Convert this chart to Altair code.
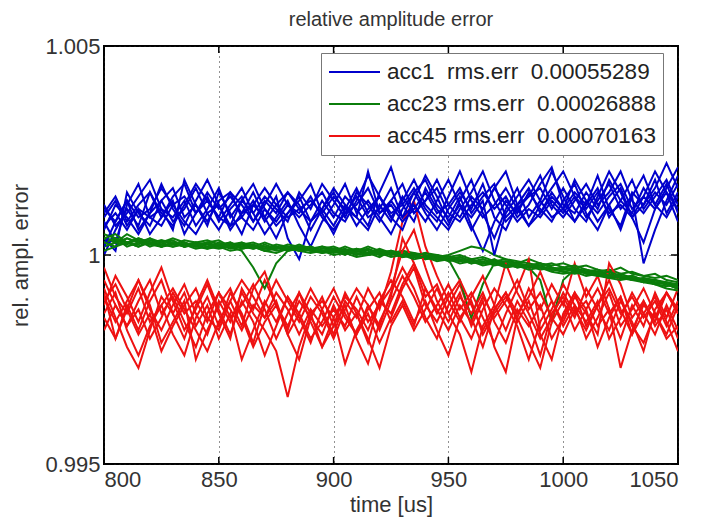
import altair as alt
import pandas as pd

TIME = list(range(800, 1051, 5))  # 51 samples, 5 us apart

# deviations from 1, in units of 1e-4
BLUE = [
    [4, 1, 15, 10, 7, 13, 8, 11, 16, 10, 6, 11, 14, 8, 12, 17, 12, 9, 12, 15,
     10, 8, 13, 19, 14, 10, 12, 16, 11, 8, 14, 20, 13, 9, 12, 16, 11, 14, 19, 12,
     9, 13, 17, 12, 15, 20, 13, 10, 14, 18, 12],
    [8, 3, 12, 17, 9, 11, 6, 18, 12, 7, 15, 10, 5, 12, 9, 14, 4, -1, 8, 13,
     9, 14, 11, 7, 15, 21, 12, 8, 16, 11, 7, 13, 18, 10, 4, 11, 16, 9, 13, 20,
     14, 8, 12, 19, 11, 7, 15, 12, 18, 10, 15],
    [12, 7, 10, 14, 18, 11, 9, 13, 7, 11, 16, 9, 13, 17, 11, 7, 10, 14, 8, 11,
     16, 12, 7, 11, 14, 9, 13, 18, 12, 9, 6, 11, 15, 20, 13, 8, 11, 7, 12, 16,
     20, 14, 9, 13, 17, 11, 14, -2, 6, 13, 19],
    [0, 6, 11, 7, 15, 9, 13, 5, 10, 14, 8, 12, 16, 10, 5, 9, 13, 7, 2, 8,
     12, 17, 10, 13, 9, 5, 11, 15, 18, 12, 9, 14, 7, 1, 8, 13, 10, 15, 11, 8,
     13, 17, 10, 6, 12, 16, 9, 3, 11, 15, 8],
    [10, 14, 8, 12, 15, 10, 7, 12, 17, 13, 9, 7, 13, 10, 14, 11, 8, 15, 11, 17,
     13, 9, 15, 12, 8, 13, 17, 10, 13, 16, 10, 8, 12, 15, 11, 14, 9, 12, 17, 21,
     12, 10, 15, 11, 18, 13, 10, 16, 12, 9, 14],
    [6, 12, 9, 5, 10, 13, 16, 9, 12, 8, 13, 15, 9, 6, 11, 8, 12, 10, 14, 9,
     6, 10, 14, 9, 11, 16, 9, 12, 8, 13, 18, 12, 9, 13, 0, 10, 14, 18, 13, 9,
     11, 15, 12, 16, 9, 13, 18, 11, 15, 12, 17],
    [11, 8, 13, 9, 11, 16, 12, 14, 10, 15, 11, 14, 10, 12, 16, 12, 9, 11, 13, 10,
     14, 11, 9, 20, 10, 12, 8, 11, 15, 10, 12, 16, 10, 14, 17, 9, 12, 16, 10, 14,
     11, 8, 13, 10, 14, 17, 11, 14, 20, 15, 11],
    [7, 10, 6, 11, 9, 7, 12, 8, 5, 10, 12, 7, 9, 13, 8, 12, 15, 11, 8, 11,
     7, 12, 9, 6, 12, 8, 14, 10, 13, 18, 12, 9, 14, 11, 16, 12, 8, 11, 9, 13,
     10, 14, 11, 15, 10, 12, 9, 14, 11, 16, 21],
    [2, 8, 13, 6, 10, 17, 11, 7, 13, 18, 12, 6, 10, 15, 9, 4, 10, 13, 17, 10,
     5, 11, 16, 10, 14, 9, 6, 13, 19, 14, 8, 12, 6, 11, 16, 20, 12, 7, 10, 15,
     11, 18, 13, 8, 12, 6, 14, 19, 12, 17, 10],
    [9, 13, 7, 11, 5, 9, 14, 17, 10, 13, 9, 15, 12, 8, 13, 10, 15, 12, 6, 11,
     15, 10, 12, 16, 10, 13, 9, 15, 10, 6, 11, 15, 11, 17, 9, 6, 12, 14, 16, 11,
     16, 11, 8, 14, 20, 15, 9, 12, 16, 22, 16],
]

GREEN = [
    [3, 4, 2, 3, 4, 2, 3, 2, 3, 2.5, 2, 3, 1.5, 2, 3, 2, 1, 2, 1.5, 2,
     1, 2, 1, 0.5, 1.5, 0.5, 1, 0, 0.5, 0, -0.5, 0, -1, -0.5, -1.5, -1, -2, -1, -2, -2.5,
     -2, -3, -2.5, -3.5, -4, -3, -4.5, -5, -4.5, -6, -6.5],
    [4, 3, 5, 3.5, 2, 3, 4, 3, 2, 3, 3.5, 2, 2.5, 3, 2, 1.5, 2.5, 2, 1, 1.5,
     2, 1, 1.5, 0.5, 1, 0, 1, 0.5, -0.5, 0, -1, -6, -15, -7, -2, -1.5, -2, -2.5, -2, -3,
     -3.5, -3, -4, -3.5, -5, -4.5, -5.5, -6, -6.5, -7, -8],
    [2, 3, 2.5, 4, 3, 2, 3, 2.5, 1.5, 2, 3, 2, 2.5, 1.5, 2, 1, 1.5, 2, 1, 0.5,
     1, 0, 1.5, 1, 0, 0.5, -0.5, 0, -1, -0.5, -1, -1.5, -1, -2, -1.5, -2.5, -2, -3, -6, -16,
     -6, -3.5, -4, -4.5, -4, -5.5, -5, -6, -7, -6.5, -7.5],
    [3, 4, 3, 2, 3.5, 3, 2, 2.5, 3, 2, 1.5, 2, 1, -3, -8, -2, 1, 1.5, 2, 1,
     1.5, 0.5, 1, 2, 1, 0, 0.5, -0.5, 0, -1, -1, -0.5, -1.5, -1, -2, -2.5, -2, -3, -2.5, -3.5,
     -4, -3.5, -4.5, -5, -4.5, -5.5, -6, -6.5, -6, -7, -7.5],
    [5, 4, 3, 4, 3, 3.5, 2.5, 3, 2, 3, 2, 2.5, 3, 2, 1.5, 2, 1, 1.5, 2, 1,
     0.5, 1, 0, 1.5, 0.5, 1, 0, -0.5, 0.5, -0.5, 0, 1, 2, 1.5, 0, -1, -1.5, -2, -2.5, -2,
     -3, -2.5, -3.5, -4, -3.5, -4.5, -4, -5, -5.5, -5, -6],
    [2, 3, 4, 3, 2.5, 2, 3, 2, 2.5, 1.5, 2.5, 1.5, 2, 2.5, 1, 1.5, 2, 1, 1.5, 0.5,
     1, 1.5, 0.5, 0, 1, 0.5, -0.5, 0, -1, -0.5, -1.5, -1, -2, -1.5, -2.5, -2, -3, -2.5, -3.5, -3,
     -4, -4.5, -4, -5, -5.5, -5, -6, -5.5, -6.5, -7, -8],
    [4, 3.5, 3, 2.5, 4, 3, 3.5, 2, 3, 3.5, 2.5, 3, 2, 2.5, 1.5, 2.5, 2, 1.5, 1, 2,
     1.5, 1, 0, 0.5, -0.5, 1, 0.5, 0, -0.5, -1, -0.5, -1.5, -1, -2, -1.5, -2, -3, -2.5, -3, -3.5,
     -3, -4, -3.5, -4.5, -5, -5.5, -5, -6, -7, -7.5, -7],
    [1, 2, 3, 2, 3, 2.5, 2, 3, 2, 1.5, 2, 1, 1.5, 2, 1, 0.5, 1.5, 1, 0.5, 1,
     0, 0.5, -0.5, 0, 0.5, -0.5, 0, -1, -0.5, -1.5, -1, -2, -1.5, -2.5, -2, -3, -2.5, -3.5, -3, -4,
     -4.5, -4, -5, -4.5, -5.5, -6, -5.5, -6.5, -7, -8, -8.5],
    [3, 2, 4, 3, 2.5, 3.5, 3, 2, 2.5, 3, 2, 2.5, 2, 1.5, 2.5, 1.5, 2, 1, 1.5, 1,
     1, 0.5, 1, 1.5, 0, 0.5, 0, -0.5, -0.5, 0, -1, -0.5, -1.5, -2, -1, -2.5, -2, -2.5, -3, -3.5,
     -3, -3.5, -4, -4.5, -4, -5, -6, -5.5, -6, -6.5, -7],
    [4, 5, 3, 3.5, 3, 2, 2.5, 3.5, 3, 2, 2.5, 2, 3, 2, 1, 2, 1.5, 2.5, 1.5, 1,
     1.5, 1, 0.5, 0, 0.5, 1, -0.5, 0.5, 0, -1, -0.5, -1, -2, -1, -2, -1.5, -2.5, -3, -2, -3,
     -3.5, -3, -4.5, -4, -5, -5, -5.5, -6.5, -6, -7, -8],
]

RED = [
    [-8, -15, -22, -27, -18, -10, -14, -20, -12, -6, -13, -19, -11, -16, -24, -17, -10, -15, -21, -13,
     -8, -14, -19, -12, -17, -9, -3, -8, -15, -20, -12, -7, -15, -22, -13, -9, -16, -11, -19, -25,
     -14, -9, -17, -12, -6, -13, -19, -11, -16, -9, -14],
    [-12, -5, -10, -16, -9, -3, -11, -18, -13, -7, -14, -20, -8, -13, -6, -12, -19, -25, -15, -10,
     -17, -12, -20, -26, -16, -10, 4, -2, -10, -7, -14, -9, -17, -11, -22, -28, -15, -8, -13, -7,
     -12, -2, -10, -5, -13, -20, -12, -17, -9, -15, -8],
    [-3, -10, -14, -8, -16, -12, -19, -24, -15, -10, -17, -9, -14, -21, -12, -6, -11, -16, -10, -14,
     -20, -13, -8, -12, -18, -11, -5, -10, -16, -12, -7, -13, -9, -15, -21, -14, -8, -1, -18, -13,
     -7, -12, -16, -11, -20, -15, -9, -14, -19, -12, -18],
    [-15, -20, -12, -18, -11, -6, -14, -9, -17, -12, -20, -14, -25, -18, -11, -16, -10, -14, -8, -13,
     -19, -11, -15, -8, -13, -4, 8, 13, 2, -5, -11, -16, -10, -5, -12, -18, -11, -16, -24, -14,
     -10, -15, -8, -13, -18, -11, -16, -23, -13, -9, -14],
    [-18, -12, -17, -11, -6, -14, -10, -16, -22, -14, -9, -15, -12, -7, -13, -20, -14, -9, -16, -22,
     -15, -26, -18, -13, -9, -16, -11, -17, -8, -14, -9, -15, -20, -13, -8, -12, -17, -25, -16, -11,
     -16, -10, -14, -19, -2, -7, -15, -11, -17, -13, -20],
    [-10, -16, -11, -6, -13, -18, -12, -7, -14, -19, -11, -16, -9, -14, -18, -23, -34, -22, -14, -11,
     -15, -10, -13, -18, -11, -14, -7, -2, -8, -13, -18, -12, -16, -10, -15, -11, -6, -13, -9, -15,
     -19, -13, -18, -12, -8, -14, -10, -15, -11, -17, -11],
    [-14, -9, -18, -24, -17, -12, -8, -13, -18, -23, -16, -11, -17, -8, -4, -12, -17, -11, -15, -19,
     -12, -18, -14, -20, -27, -17, -12, -18, -13, -8, -14, -19, -28, -17, -12, -2, -9, -14, -20, -15,
     -9, -14, -11, -17, -13, -27, -18, -12, -15, -9, -13],
    [-6, -12, -17, -13, -20, -15, -9, -14, -11, -16, -9, -13, -18, -12, -15, -9, -13, -19, -13, -17,
     -13, -17, -10, -16, -12, -8, 1, 6, -3, -11, -16, -10, -14, -9, -16, -21, -13, -17, -12, -20,
     -15, -9, -13, -8, -14, -10, -19, -14, -10, -16, -23],
    [-9, -20, -13, -6, -12, -21, -16, -11, -25, -18, -12, -8, -15, -22, -16, -12, -18, -9, -14, -22,
     -17, -9, -14, -21, -11, -6, -10, -16, -11, -18, -24, -15, -11, -19, -14, -10, -15, -21, -27, -16,
     -11, -18, -13, -22, -15, -10, -17, -21, -14, -19, -12],
    [-11, -7, -13, -19, -14, -23, -17, -12, -8, -15, -18, -11, -6, -10, -15, -11, -19, -14, -20, -16,
     -10, -15, -19, -14, -21, -15, -8, -3, -12, -16, -10, -6, -12, -18, -13, -9, -14, -10, -4, -11,
     -17, -12, -20, -15, -9, -17, -13, -8, -14, -20, -17],
]

LABELS = [
    "acc1\u00a0\u00a0rms.err\u00a0\u00a00.00055289\u00a0",
    "acc23\u00a0rms.err\u00a0\u00a00.00026888\u00a0",
    "acc45\u00a0rms.err\u00a0\u00a00.00070163\u00a0",
]
COLORS = ["#0000cc", "#0b7d0b", "#ee1111"]

TITLE = ["relative amplitude error"]
X_TICKS = [800, 850, 900, 950, 1000, 1050]
Y_TICKS = [0.995, 1.0, 1.005]

rows = []
groups = [BLUE, GREEN, RED]
for k in range(len(BLUE)):
    for g, series in enumerate(groups):
        for t, d in zip(TIME, series[k]):
            rows.append({"time": t, "value": 1 + d * 1e-4,
                         "series": LABELS[g], "run": f"{k:02d}-{g}"})
df = pd.DataFrame(rows)

W, H = 574, 418
FONT = "Liberation Sans"

xscale = alt.Scale(domain=[800, 1050], nice=False, zero=False)
yscale = alt.Scale(domain=[0.995, 1.005], nice=False, zero=False)

AX = alt.Axis(values=X_TICKS, format="d", grid=True, gridDash=[1, 4], gridColor="#222",
              gridOpacity=1, gridWidth=1, ticks=False, domain=False, labelPadding=5,
              labelFontSize=22, titleFontSize=22, titleFontWeight="normal",
              labelColor="#333", titleColor="#333", titlePadding=4,
              labelFont=FONT, titleFont=FONT)
AY = alt.Axis(values=Y_TICKS, format=".3~f", grid=True, gridDash=[1, 4], gridColor="#222",
              gridOpacity=1, gridWidth=1, ticks=False, domain=False, labelPadding=4,
              labelFontSize=22, titleFontSize=22, titleFontWeight="normal",
              labelColor="#333", titleColor="#333", titlePadding=12,
              labelFont=FONT, titleFont=FONT)

XT = "time [us]"
YT = "rel. ampl. error"

lines = alt.Chart(df).mark_line(strokeWidth=2, clip=True).encode(
    x=alt.X("time:Q", scale=xscale, axis=AX, title=XT),
    y=alt.Y("value:Q", scale=yscale, axis=AY, title=YT),
    color=alt.Color("series:N", scale=alt.Scale(domain=LABELS, range=COLORS),
                    legend=alt.Legend(orient="none", legendX=217, legendY=7, title=None,
                                      labelFont=FONT, labelFontSize=22.5, labelColor="#222",
                                      labelLimit=500, symbolType="stroke",
                                      symbolSize=2601, symbolStrokeWidth=2,
                                      clipHeight=24, rowPadding=8,
                                      strokeColor="#777", fillColor="white",
                                      padding=7, labelOffset=6)),
    detail="run:N",
)

xt = pd.DataFrame({"time": X_TICKS})
yt = pd.DataFrame({"value": Y_TICKS})
TL = 7
tick_x_bottom = alt.Chart(xt).mark_rule(color="black", strokeWidth=1.5).encode(
    x=alt.X("time:Q", scale=xscale, axis=AX, title=XT), y=alt.value(H), y2=alt.value(H - TL))
tick_x_top = alt.Chart(xt).mark_rule(color="black", strokeWidth=1.5).encode(
    x=alt.X("time:Q", scale=xscale, axis=AX, title=XT), y=alt.value(0), y2=alt.value(TL))
tick_y_left = alt.Chart(yt).mark_rule(color="black", strokeWidth=1.5).encode(
    y=alt.Y("value:Q", scale=yscale, axis=AY, title=YT), x=alt.value(0), x2=alt.value(TL))
tick_y_right = alt.Chart(yt).mark_rule(color="black", strokeWidth=1.5).encode(
    y=alt.Y("value:Q", scale=yscale, axis=AY, title=YT), x=alt.value(W), x2=alt.value(W - TL))

title_text = alt.Chart(pd.DataFrame({"title": TITLE})).mark_text(
    font=FONT, fontSize=20, color="#333", align="center", baseline="alphabetic",
    clip=False,
).encode(text="title:N", x=alt.value(W / 2), y=alt.value(-20))

chart = alt.layer(lines, tick_x_bottom, tick_x_top, tick_y_left, tick_y_right,
                  title_text).properties(
    width=W, height=H,
    autosize=alt.AutoSizeParams(type="none"),
    padding={"left": 104, "top": 46, "right": 29, "bottom": 59},
    background="white",
).configure_view(stroke="black", strokeWidth=2)

chart.save("out.html", embed_options={"renderer": "svg", "actions": False})
